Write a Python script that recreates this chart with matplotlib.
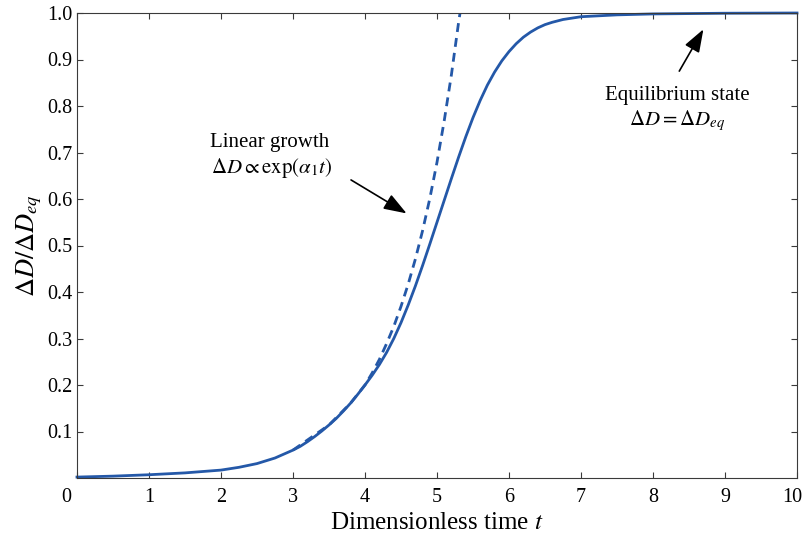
import matplotlib
matplotlib.use("Agg")
import matplotlib.pyplot as plt
import matplotlib.transforms as mtransforms

# values
t_solid = [0, 0.5, 1, 1.5, 2, 2.25, 2.5, 2.75, 3, 3.1, 3.2, 3.3, 3.4, 3.5, 3.6,
           3.7, 3.8, 3.9, 4, 4.1, 4.2, 4.3, 4.4, 4.5, 4.6, 4.7, 4.8, 4.9, 5,
           5.1, 5.2, 5.3, 5.4, 5.5, 5.6, 5.7, 5.8, 5.9, 6, 6.1, 6.2, 6.3, 6.4,
           6.5, 6.6, 6.75, 7, 7.5, 8, 9, 10]
d_solid = [0.002, 0.004, 0.007, 0.011, 0.017, 0.023, 0.031, 0.043, 0.060,
           0.068, 0.078, 0.089, 0.101, 0.114, 0.128, 0.144, 0.161, 0.180,
           0.200, 0.221, 0.244, 0.270, 0.300, 0.334, 0.372, 0.413, 0.457,
           0.503, 0.550, 0.597, 0.644, 0.690, 0.734, 0.775, 0.812, 0.845,
           0.873, 0.897, 0.917, 0.934, 0.948, 0.959, 0.968, 0.975, 0.980,
           0.986, 0.992, 0.996, 0.998, 0.9995, 1.0]

t_lin = [3.0, 3.5, 3.8, 4.0, 4.1, 4.2, 4.3, 4.4, 4.5, 4.6, 4.7, 4.8, 4.9,
         5.0, 5.1, 5.2, 5.3, 5.32]
d_lin = [0.060, 0.114, 0.161, 0.200, 0.226, 0.255, 0.289, 0.326, 0.369,
         0.417, 0.471, 0.532, 0.601, 0.679, 0.768, 0.867, 0.980, 1.0]

x_ticks = [0, 1, 2, 3, 4, 5, 6, 7, 8, 9, 10]
y_ticks = [0.1, 0.2, 0.3, 0.4, 0.5, 0.6, 0.7, 0.8, 0.9, 1.0]

BLUE = "#2458a8"  # line colour
AXC = "#3a3a3a"   # axes colour
ARROW = "-|>,head_length=0.7,head_width=0.25"

plt.rcParams["font.family"] = ["Liberation Serif", "DejaVu Serif"]
plt.rcParams["mathtext.fontset"] = "stix"

fig = plt.figure(figsize=(8.05, 5.35), dpi=100)
ax = fig.add_axes([77 / 805, 1 - 478 / 535, 720 / 805, 465 / 535])

ax.plot(t_lin, d_lin, "--", color=BLUE, lw=2.0, dashes=(3.2, 2.2))  # exponential growth
ax.plot(t_solid, d_solid, "-", color=BLUE, lw=2.0, clip_on=False)  # full solution

ax.set_xlim(0, 10)
ax.set_ylim(0, 1)
ax.set_xticks(x_ticks)
ax.set_yticks(y_ticks)
ax.set_xticklabels([str(v) for v in x_ticks])
ax.set_yticklabels(["%.1f" % v for v in y_ticks])

ax.tick_params(direction="in", top=True, right=True, length=4, width=0.8,
               color=AXC, labelsize=14.5, labelcolor="black")
ax.tick_params(axis="x", pad=7)
ax.tick_params(axis="y", pad=3.5)
for s in ax.spines.values():
    s.set_color(AXC)
    s.set_linewidth(0.8)

# end labels are nudged sideways like in the reference
labs = ax.get_xticklabels()
for lab, dx in ((labs[0], -0.11), (labs[-1], -0.05)):
    off = mtransforms.ScaledTranslation(dx, 0, fig.dpi_scale_trans)
    lab.set_transform(lab.get_transform() + off)

ax.set_xlabel("Dimensionless time $t$", fontsize=18, labelpad=4)
ax.set_ylabel(r"$\Delta D/\Delta D_{eq}$", fontsize=19, labelpad=2)

# annotations: text lines placed one by one, arrows drawn separately
ax.text(2.68, 0.722, "Linear growth", ha="center", va="center", fontsize=15)
ax.text(2.70, 0.666, r"$\Delta D \propto \mathrm{exp}(\alpha_1 t)$",
        ha="center", va="center", fontsize=15)
ax.annotate("", xy=(4.578, 0.569), xytext=(3.806, 0.641),
            arrowprops=dict(arrowstyle=ARROW, color="black", lw=1.2,
                            mutation_scale=20, shrinkA=0, shrinkB=0))

ax.text(8.34, 0.822, "Equilibrium state", ha="center", va="center", fontsize=15)
ax.text(8.34, 0.769, r"$\Delta D = \Delta D_{eq}$", ha="center", va="center",
        fontsize=15)
ax.annotate("", xy=(8.70, 0.965), xytext=(8.365, 0.875),
            arrowprops=dict(arrowstyle=ARROW, color="black", lw=1.2,
                            mutation_scale=20, shrinkA=0, shrinkB=0))

fig.savefig("out.png", dpi=100)
